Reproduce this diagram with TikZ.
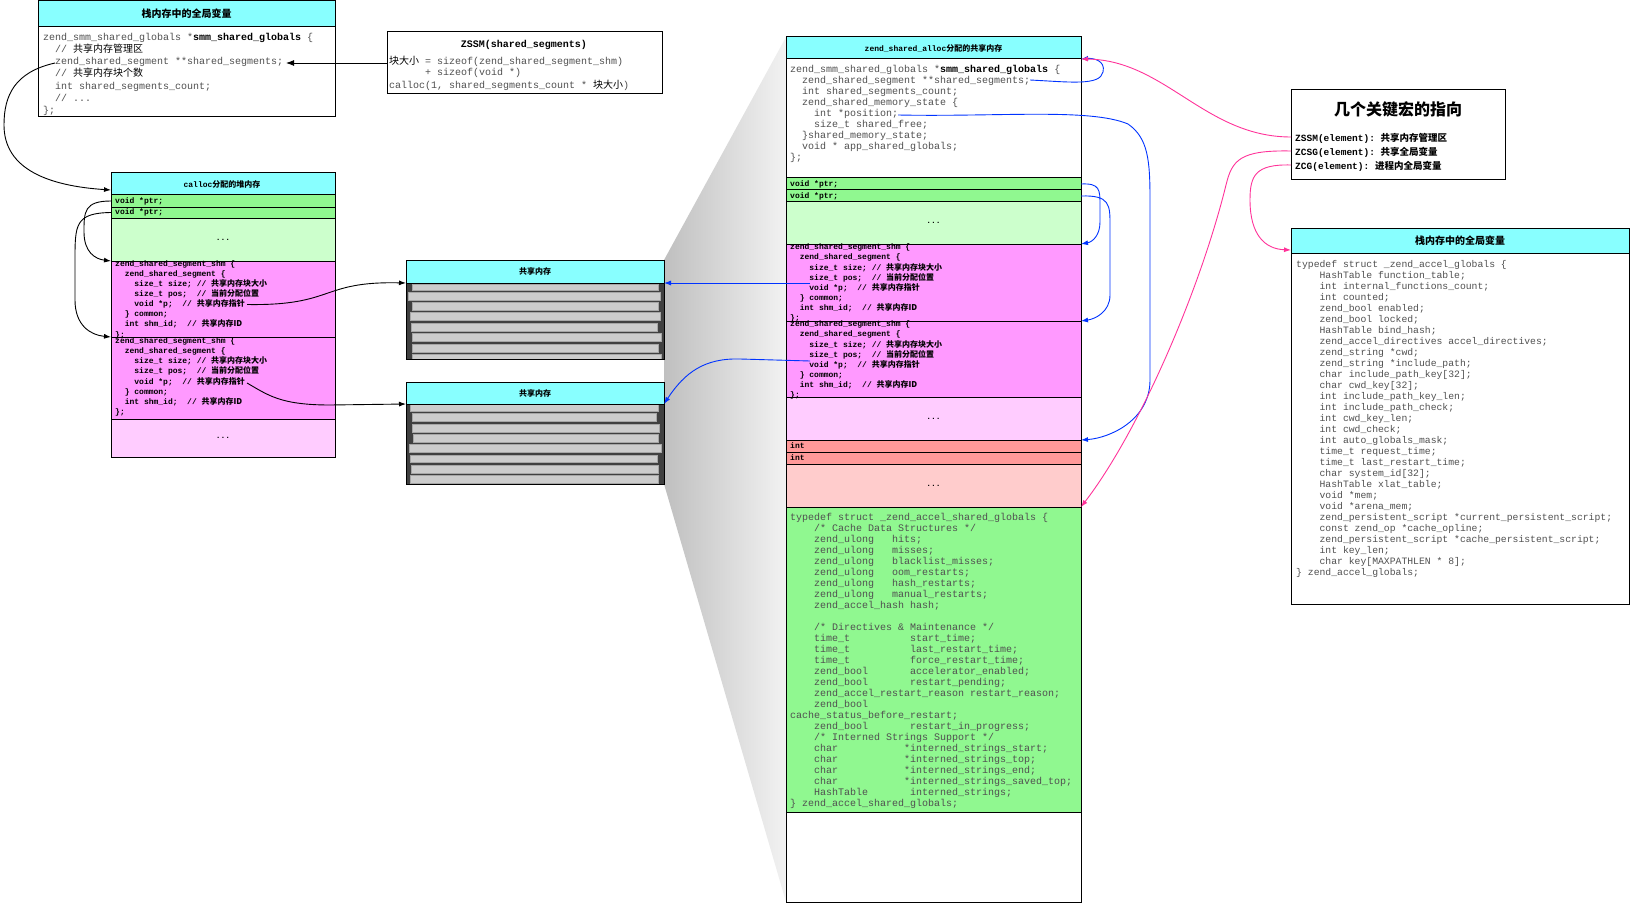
\documentclass[tikz,border=0pt]{standalone}
\usepackage{fontspec}
\setmonofont{Liberation Mono}
\newfontfamily\zhfont{Noto Sans CJK SC}
\usetikzlibrary{arrows.meta}

\definecolor{hdr}{RGB}{136,255,255}
\definecolor{grn}{RGB}{144,248,144}
\definecolor{lgrn}{RGB}{204,255,204}
\definecolor{mag}{RGB}{255,153,255}
\definecolor{lmag}{RGB}{255,204,255}
\definecolor{sal}{RGB}{255,153,153}
\definecolor{lsal}{RGB}{255,204,204}
\definecolor{codegray}{RGB}{80,80,80}
\definecolor{barfill}{RGB}{204,204,204}
\definecolor{dark}{RGB}{64,64,64}
\definecolor{ptrblue}{RGB}{0,51,255}
\definecolor{macropink}{RGB}{255,51,153}

% Chinese text inside code lines
\newcommand\zh[1]{{\zhfont\color{black}#1}}
% n monospace blanks
\newcommand\sk[1]{\hbox to #1\fontcharwd\font`0{}}
% memory cell: name, x1, y1, x2, y2, fill
\newcommand\membox[6]{%
  \node[mem, fill=#6, minimum width={#4-#2}, minimum height={#5-#3}] (#1) at (#2,#3) {};}

\tikzset{
  mem/.style={draw=black, line width=1pt, inner sep=0pt, outer sep=0pt, anchor=north west},
  code/.style={anchor=north west, inner sep=0pt, align=left, text=codegray,
    font=\ttfamily\fontsize{10}{11}\selectfont\frenchspacing},
  segcode/.style={anchor=north west, inner sep=0pt, align=left, text=black,
    font=\ttfamily\bfseries\fontsize{8}{10.15}\selectfont\frenchspacing},
  rowtxt/.style={anchor=west, inner sep=0pt, text=black,
    font=\ttfamily\bfseries\fontsize{8}{10}\selectfont},
  dots/.style={inner sep=0pt, text=black, font=\ttfamily\bfseries\fontsize{8}{10}\selectfont},
  smallhead/.style={inner sep=0pt, text=black, font=\bfseries\fontsize{8}{10}\selectfont},
  bighead/.style={inner sep=0pt, text=black, font=\zhfont\bfseries\fontsize{10}{12}\selectfont},
  barcell/.style={fill=barfill, draw=gray!70, line width=0.5pt},
  blk/.style={draw=black, line width=0.9pt, -{Latex[length=7pt,width=5pt]}},
  blu/.style={draw=ptrblue, line width=0.9pt, -{Latex[length=7pt,width=5pt]}},
  pnk/.style={draw=macropink, line width=0.9pt, -{Latex[length=7pt,width=5pt]}},
}

\begin{document}
\catcode`\_=12
\newcommand\segtext{%
\strut zend_shared_segment_shm \{\\
\strut\sk{2}zend_shared_segment \{\\
\strut\sk{4}size_t size; // \zh{共享内存块大小}\\
\strut\sk{4}size_t pos;\sk{2}// \zh{当前分配位置}\\
\strut\sk{4}void *p;\sk{2}// \zh{共享内存指针}\\
\strut\sk{2}\} common;\\
\strut\sk{2}int shm_id;\sk{2}// \zh{共享内存ID}\\
\strut\};}
\begin{tikzpicture}[x=1pt,y=-1pt]
\useasboundingbox (0,0) rectangle (1632,904);

% zoom funnel between the shared memory blocks and the shared allocation
\shade[left color=gray!50, right color=gray!10] (664,260) -- (786,37) -- (786,902) -- (664,484) -- cycle;

% ---------- process globals (top left) ----------
\membox{gl-h}{38}{1}{335}{27}{hdr}
\membox{gl-b}{38}{27}{335}{117}{white}
\node[bighead] (gl-title) at (gl-h) {栈内存中的全局变量};
\node[code, font=\ttfamily\fontsize{10}{12.2}\selectfont\frenchspacing] (gl-code) at (43,31.5) {%
\strut zend_smm_shared_globals *\textbf{\color{black}smm_shared_globals} \{\\
\strut\sk{2}// \zh{共享内存管理区}\\
\strut\sk{2}zend_shared_segment **shared_segments;\\
\strut\sk{2}// \zh{共享内存块个数}\\
\strut\sk{2}int shared_segments_count;\\
\strut\sk{2}// ...\\
\strut\};};

% ---------- ZSSM note ----------
\membox{zs}{387}{32}{662}{94}{white}
\node[inner sep=0pt, font=\ttfamily\bfseries\fontsize{10}{12}\selectfont] (zs-title) at (524,45) {ZSSM(shared_segments)};
\node[code] (zs-code) at (389,56.3) {%
\strut\zh{块大小} = sizeof(zend_shared_segment_shm)\\
\strut\sk{6}+ sizeof(void *)\\
\strut calloc(1, shared_segments_count * \zh{块大小})};

% ---------- calloc heap block ----------
\membox{cal-h}{111}{173}{335}{195}{hdr}
\membox{cal-r1}{111}{195}{335}{207}{grn}
\membox{cal-r2}{111}{207}{335}{218}{grn}
\membox{cal-d1}{111}{218}{335}{261}{lgrn}
\membox{cal-s1}{111}{261}{335}{337}{mag}
\membox{cal-s2}{111}{337}{335}{419}{mag}
\membox{cal-d2}{111}{419}{335}{457}{lmag}
\node[smallhead] (cal-title) at (222,184) {\texttt{calloc}\zh{分配的堆内存}};
\node[rowtxt] (cal-r1-t) at (115,201) {void *ptr;};
\node[rowtxt] (cal-r2-t) at (115,212.5) {void *ptr;};
\node[dots] (cal-d1-t) at (cal-d1) {...};
\node[segcode] (cal-s1-t) at (115,258.7) {\segtext};
\node[segcode] (cal-s2-t) at (115,336.1) {\segtext};
\node[dots] (cal-d2-t) at (cal-d2) {...};

% ---------- shared memory blocks ----------
\fill[dark] (406,283) rectangle (664,359);
\foreach \xa/\ya/\xb/\yb in {412/284.3/658.7/290, 408/292.3/660.3/300, 412/302/658.7/310,
  410.7/312.3/660.7/320.3, 411.3/323/657.7/331, 412.3/333/661.3/341,
  412/344.3/658.7/352.3, 412/354.3/661.3/359.3}
  \draw[barcell] (\xa,\ya) rectangle (\xb,\yb);
\membox{sh1-b}{406}{283}{664}{359}{none}
\membox{sh1-h}{406}{260}{664}{283}{hdr}
\node[smallhead] (sh1-title) at (sh1-h) {\zh{共享内存}};

\fill[dark] (406,404) rectangle (664,484);
\foreach \xa/\ya/\xb/\yb in {410.7/404.7/658.7/411.7, 412/413.7/656.7/421.3, 412.3/424/659/432.3,
  413.3/434.3/658/442.3, 409/444.7/661.3/452.7, 410.3/455/657/462.7,
  411.3/465/658.7/473, 410.3/475.7/658.7/483.7}
  \draw[barcell] (\xa,\ya) rectangle (\xb,\yb);
\membox{sh2-b}{406}{404}{664}{484}{none}
\membox{sh2-h}{406}{382}{664}{404}{hdr}
\node[smallhead] (sh2-title) at (sh2-h) {\zh{共享内存}};

% ---------- zend_shared_alloc block ----------
\membox{mid-h}{786}{37}{1081}{59}{hdr}
\membox{mid-c}{786}{59}{1081}{178}{white}
\membox{mid-r1}{786}{178}{1081}{190}{grn}
\membox{mid-r2}{786}{190}{1081}{202}{grn}
\membox{mid-d1}{786}{202}{1081}{244}{lgrn}
\membox{mid-s1}{786}{244}{1081}{321}{mag}
\membox{mid-s2}{786}{321}{1081}{397}{mag}
\membox{mid-d2}{786}{397}{1081}{440}{lmag}
\membox{mid-i1}{786}{440}{1081}{452}{sal}
\membox{mid-i2}{786}{452}{1081}{464}{sal}
\membox{mid-d3}{786}{464}{1081}{507}{lsal}
\membox{mid-g}{786}{507}{1081}{812}{grn}
\membox{mid-e}{786}{812}{1081}{902}{white}
\node[smallhead] (mid-title) at (mid-h) {\texttt{zend_shared_alloc}\zh{分配的共享内存}};
\node[code] (mid-code) at (790,64.3) {%
\strut zend_smm_shared_globals *\textbf{\color{black}smm_shared_globals} \{\\
\strut\sk{2}zend_shared_segment **shared_segments;\\
\strut\sk{2}int shared_segments_count;\\
\strut\sk{2}zend_shared_memory_state \{\\
\strut\sk{4}int *position;\\
\strut\sk{4}size_t shared_free;\\
\strut\sk{2}\}shared_memory_state;\\
\strut\sk{2}void * app_shared_globals;\\
\strut\};};
\node[rowtxt] (mid-r1-t) at (790,184) {void *ptr;};
\node[rowtxt] (mid-r2-t) at (790,196) {void *ptr;};
\node[dots] (mid-d1-t) at (mid-d1) {...};
\node[segcode] (mid-s1-t) at (790,242.4) {\segtext};
\node[segcode] (mid-s2-t) at (790,319.4) {\segtext};
\node[dots] (mid-d2-t) at (mid-d2) {...};
\node[rowtxt] (mid-i1-t) at (790,446) {int};
\node[rowtxt] (mid-i2-t) at (790,458) {int};
\node[dots] (mid-d3-t) at (mid-d3) {...};
\node[code] (acc-code) at (790,513) {%
\strut typedef struct _zend_accel_shared_globals \{\\
\strut\sk{4}/* Cache Data Structures */\\
\strut\sk{4}zend_ulong\sk{3}hits;\\
\strut\sk{4}zend_ulong\sk{3}misses;\\
\strut\sk{4}zend_ulong\sk{3}blacklist_misses;\\
\strut\sk{4}zend_ulong\sk{3}oom_restarts;\\
\strut\sk{4}zend_ulong\sk{3}hash_restarts;\\
\strut\sk{4}zend_ulong\sk{3}manual_restarts;\\
\strut\sk{4}zend_accel_hash hash;\\
\strut\\
\strut\sk{4}/* Directives \& Maintenance */\\
\strut\sk{4}time_t\sk{10}start_time;\\
\strut\sk{4}time_t\sk{10}last_restart_time;\\
\strut\sk{4}time_t\sk{10}force_restart_time;\\
\strut\sk{4}zend_bool\sk{7}accelerator_enabled;\\
\strut\sk{4}zend_bool\sk{7}restart_pending;\\
\strut\sk{4}zend_accel_restart_reason restart_reason;\\
\strut\sk{4}zend_bool\\
\strut cache_status_before_restart;\\
\strut\sk{4}zend_bool\sk{7}restart_in_progress;\\
\strut\sk{4}/* Interned Strings Support */\\
\strut\sk{4}char\sk{11}*interned_strings_start;\\
\strut\sk{4}char\sk{11}*interned_strings_top;\\
\strut\sk{4}char\sk{11}*interned_strings_end;\\
\strut\sk{4}char\sk{11}*interned_strings_saved_top;\\
\strut\sk{4}HashTable\sk{7}interned_strings;\\
\strut\} zend_accel_shared_globals;};

% ---------- key macros ----------
\membox{key}{1291}{90}{1505}{180}{white}
\node[inner sep=0pt, font=\zhfont\bfseries\fontsize{16}{18}\selectfont] (key-title) at (1398,109) {几个关键宏的指向};
\node[anchor=north west, inner sep=0pt, align=left, text=black,
  font=\ttfamily\bfseries\fontsize{9.5}{14}\selectfont] (key-code) at (1295,131.2) {%
\strut ZSSM(element): \zh{共享内存管理区}\\
\strut ZCSG(element): \zh{共享全局变量}\\
\strut ZCG(element): \zh{进程内全局变量}};

% ---------- accelerator globals (right) ----------
\membox{rg-h}{1291}{228}{1629}{253}{hdr}
\membox{rg-b}{1291}{253}{1629}{604}{white}
\node[bighead] (rg-title) at (rg-h) {栈内存中的全局变量};
\node[code, font=\ttfamily\fontsize{9.75}{11}\selectfont\frenchspacing] (rg-code) at (1296,259.6) {%
\strut typedef struct _zend_accel_globals \{\\
\strut\sk{4}HashTable function_table;\\
\strut\sk{4}int internal_functions_count;\\
\strut\sk{4}int counted;\\
\strut\sk{4}zend_bool enabled;\\
\strut\sk{4}zend_bool locked;\\
\strut\sk{4}HashTable bind_hash;\\
\strut\sk{4}zend_accel_directives accel_directives;\\
\strut\sk{4}zend_string *cwd;\\
\strut\sk{4}zend_string *include_path;\\
\strut\sk{4}char include_path_key[32];\\
\strut\sk{4}char cwd_key[32];\\
\strut\sk{4}int include_path_key_len;\\
\strut\sk{4}int include_path_check;\\
\strut\sk{4}int cwd_key_len;\\
\strut\sk{4}int cwd_check;\\
\strut\sk{4}int auto_globals_mask;\\
\strut\sk{4}time_t request_time;\\
\strut\sk{4}time_t last_restart_time;\\
\strut\sk{4}char system_id[32];\\
\strut\sk{4}HashTable xlat_table;\\
\strut\sk{4}void *mem;\\
\strut\sk{4}void *arena_mem;\\
\strut\sk{4}zend_persistent_script *current_persistent_script;\\
\strut\sk{4}const zend_op *cache_opline;\\
\strut\sk{4}zend_persistent_script *cache_persistent_script;\\
\strut\sk{4}int key_len;\\
\strut\sk{4}char key[MAXPATHLEN * 8];\\
\strut\} zend_accel_globals;};

% ---------- connector end points on code lines ----------
\coordinate (gl-ss) at (55,63);
\coordinate (gl-ss-end) at (286,63);
\coordinate (cal-in) at (111,190);
\coordinate (cal-p1) at (247,304.5);
\coordinate (cal-p2) at (247,383);
\coordinate (mid-p1) at (810,283);
\coordinate (mid-p2) at (810,361);
\coordinate (mid-ss) at (1030,80);
\coordinate (mid-pos) at (898,115);
\coordinate (kz1) at (1291,137);
\coordinate (kz2) at (1291,151);
\coordinate (kz3) at (1291,165);
\coordinate (rg-in) at (1291,250);

% ---------- connectors ----------
\draw[blk, -{Latex[length=8pt,width=6pt]}] (zs.west) -- (gl-ss-end);
\draw[blk] (gl-ss) .. controls (15,72) and (4,95) .. (4,125)
  .. controls (4,170) and (50,186) .. (cal-in);
\draw[blk] (cal-r1.west) .. controls (84,201) and (84,212) .. (84,232)
  .. controls (84,252) and (95,259) .. (cal-s1.north west);
\draw[blk] (cal-r2.west) .. controls (75,213) and (75,225) .. (75,260) -- (75,300)
  .. controls (75,325) and (90,335) .. (cal-s2.north west);
\draw[blk] (cal-p1) .. controls (335,306) and (320,281) .. (sh1-b.north west);
\draw[blk] (cal-p2) .. controls (268,395) and (280,405) .. (330,405) -- (sh2-b.north west);

\draw[blu] (mid-p1) -- (sh1-h.south east);
\draw[blu] (mid-p2) -- (740,359) .. controls (705,358) and (685,372) .. (sh2-h.south east);
\draw[blu] (mid-ss) .. controls (1070,82) and (1100,86) .. (1103,72)
  .. controls (1106,60) and (1092,58) .. (mid-h.south east);
\draw[blu] (mid-pos) .. controls (1000,117) and (1090,108) .. (1128,124)
  .. controls (1148,138) and (1150,160) .. (1150,200) -- (1150,380)
  .. controls (1150,420) and (1110,438) .. (mid-i1.north east);
\draw[blu] (mid-r1.east) .. controls (1100,183) and (1100,190) .. (1100,205) -- (1100,222)
  .. controls (1100,236) and (1092,242) .. (mid-s1.north east);
\draw[blu] (mid-r2.east) .. controls (1110,195) and (1110,205) .. (1110,225) -- (1110,295)
  .. controls (1110,312) and (1095,319) .. (mid-s2.north east);

\draw[pnk] (kz1) .. controls (1205,137) and (1165,60) .. (mid-h.south east);
\draw[pnk] (kz2) .. controls (1240,150) and (1232,160) .. (1226,185)
  .. controls (1200,290) and (1140,430) .. (mid-g.north east);
\draw[pnk] (kz3) .. controls (1255,164) and (1250,176) .. (1250,200)
  .. controls (1250,235) and (1265,249) .. (rg-in);
\end{tikzpicture}
\end{document}
